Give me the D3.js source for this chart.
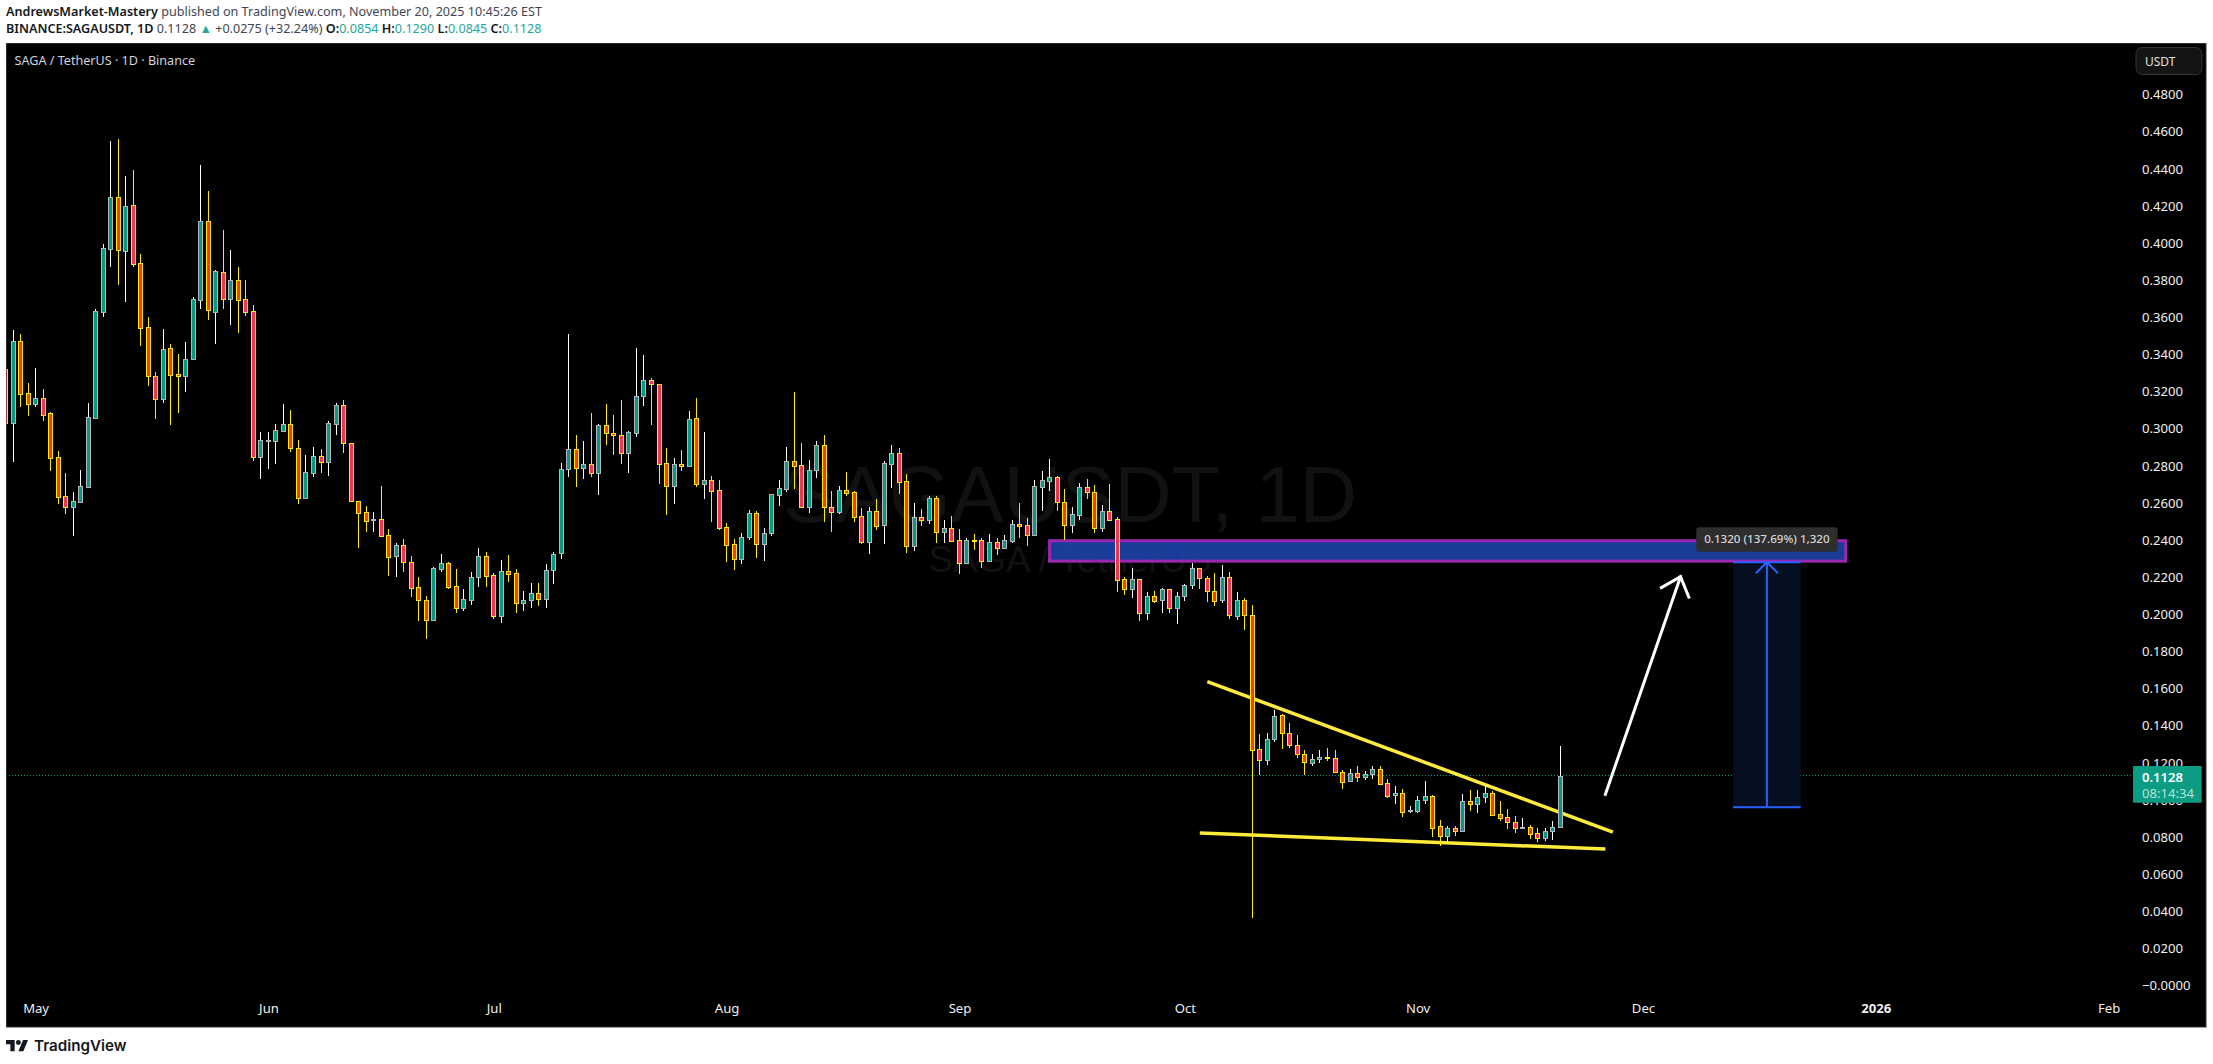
<!DOCTYPE html>
<html><head><meta charset="utf-8">
<script src="https://cdn.jsdelivr.net/npm/d3@7/dist/d3.min.js"></script>
<style>
html,body{margin:0;padding:0;background:#fff;overflow:hidden}
svg{display:block}
text{font-family:"Noto Sans",sans-serif}
</style></head><body>
<svg id="c" width="2213" height="1064"></svg>
<script>
const startDate = "2025-04-27";
const opens = [.3319,.3031,.3469,.3189,.3134,.3162,.3082,.2844,.2634,.2579,.2606,.2686,.3058,.3629,.3969,.4245,.3958,.4202,.3890,.3545,.3281,.3161,.3432,.3292,.3284,.3373,.3694,.4116,.3629,.3841,.3699,.3798,.3696,.3631,.2848,.2936,.2934,.2988,.3022,.2893,.2627,.2762,.2850,.2821,.3026,.3125,.2920,.2611,.2548,.2505,.2511,.2425,.2315,.2371,.2279,.2145,.2075,.1970,.2245,.2274,.2150,.2035,.2078,.2197,.2312,.2209,.1992,.2231,.2220,.2062,.2073,.2112,.2080,.2236,.2328,.2780,.2888,.2786,.2807,.2759,.3017,.2974,.2964,.2870,.2978,.3172,.3260,.3238,.2813,.2689,.2807,.2800,.3055,.2700,.2721,.2667,.2468,.2376,.2299,.2414,.2543,.2380,.2434,.2644,.2676,.2823,.2802,.2579,.2775,.2909,.2579,.2552,.2667,.2656,.2527,.2390,.2554,.2482,.2811,.2866,.2716,.2364,.2522,.2504,.2624,.2444,.2462,.2398,.2277,.2401,.2398,.2288,.2387,.2358,.2396,.2484,.2479,.2428,.2687,.2719,.2737,.2602,.2482,.2536,.2683,.2656,.2466,.2554,.2511,.2187,.2133,.2187,.2004,.2096,.2074,.2133,.2031,.2096,.2155,.2247,.2193,.2123,.2074,.2198,.1988,.2074,.1993,.1271,.1212,.1325,.1455,.1358,.1293,.1244,.1196,.1217,.1230,.1223,.1147,.1099,.1142,.1121,.1137,.1164,.1088,.1024,.1034,.0939,.0939,.0996,.1018,.0857,.0806,.0846,.0833,.0991,.0979,.1013,.1034,.0921,.0905,.0878,.0849,.0851,.0819,.0792,.0830,.0854];
const highs = [.3319,.3531,.3507,.3243,.3326,.3211,.3087,.2877,.2758,.2656,.2776,.3135,.3642,.3992,.4549,.4560,.4360,.4391,.3938,.3599,.3302,.3534,.3453,.3399,.3464,.3710,.4418,.4278,.3852,.4068,.3960,.3868,.3798,.3663,.2981,.2979,.3024,.3130,.3098,.2936,.2855,.2898,.2888,.3038,.3135,.3152,.2920,.2611,.2580,.2550,.2689,.2457,.2382,.2403,.2312,.2198,.2096,.2252,.2322,.2279,.2242,.2134,.2225,.2355,.2333,.2220,.2290,.2317,.2242,.2123,.2166,.2166,.2269,.2333,.2813,.3510,.2964,.2931,.3082,.3023,.3131,.3071,.3152,.2985,.3432,.3395,.3271,.3238,.2894,.2840,.2883,.3093,.3163,.2980,.2743,.2721,.2489,.2403,.2436,.2559,.2554,.2462,.2646,.2721,.2899,.3197,.2920,.2829,.2931,.2963,.2662,.2689,.2764,.2662,.2570,.2575,.2619,.2823,.2909,.2893,.2753,.2597,.2565,.2635,.2635,.2505,.2527,.2457,.2408,.2430,.2408,.2430,.2408,.2425,.2505,.2597,.2516,.2721,.2769,.2834,.2742,.2672,.2575,.2705,.2726,.2694,.2586,.2699,.2522,.2198,.2247,.2187,.2117,.2123,.2139,.2133,.2117,.2160,.2274,.2247,.2203,.2220,.2263,.2225,.2117,.2085,.2047,.1352,.1358,.1482,.1460,.1411,.1347,.1266,.1244,.1266,.1277,.1266,.1158,.1164,.1180,.1153,.1180,.1180,.1110,.1072,.1056,.0964,.1018,.1099,.1024,.0889,.0857,.0857,.1029,.1050,.1050,.1072,.1045,.0991,.0948,.0910,.0900,.0862,.0846,.0846,.0883,.1290];
const lows = [.3031,.2819,.3117,.3069,.3117,.3042,.2773,.2595,.2541,.2422,.2606,.2679,.3058,.3602,.3872,.3775,.3683,.3872,.3446,.3231,.3053,.3139,.3020,.3085,.3198,.3373,.3645,.3586,.3457,.3645,.3559,.3516,.3608,.2826,.2730,.2783,.2810,.2981,.2875,.2595,.2622,.2740,.2762,.2746,.2967,.2870,.2611,.2356,.2444,.2444,.2418,.2207,.2197,.2229,.2094,.1965,.1863,.1965,.2229,.2137,.2003,.2014,.2051,.2148,.2148,.1976,.1954,.2170,.2008,.2014,.2030,.2046,.2035,.2164,.2299,.2741,.2682,.2725,.2741,.2644,.2912,.2859,.2806,.2762,.2956,.3123,.3021,.2703,.2531,.2595,.2768,.2795,.2682,.2622,.2498,.2455,.2283,.2240,.2267,.2401,.2302,.2288,.2423,.2584,.2658,.2671,.2574,.2547,.2735,.2498,.2444,.2541,.2638,.2498,.2380,.2326,.2455,.2380,.2681,.2649,.2331,.2337,.2477,.2487,.2385,.2385,.2396,.2218,.2272,.2347,.2250,.2288,.2320,.2358,.2385,.2412,.2369,.2423,.2557,.2665,.2557,.2401,.2434,.2509,.2622,.2439,.2444,.2504,.2121,.2101,.2085,.1965,.1970,.2058,.2008,.2008,.1948,.2072,.2133,.2133,.2067,.2045,.2058,.1975,.1970,.1916,.0364,.1135,.1189,.1313,.1275,.1277,.1223,.1135,.1180,.1196,.1207,.1147,.1059,.1097,.1097,.1104,.1113,.1077,.1011,.0979,.0909,.0930,.0930,.0979,.0801,.0749,.0763,.0804,.0833,.0941,.0930,.0980,.0919,.0887,.0844,.0822,.0849,.0790,.0772,.0778,.0783,.0845];
const closes = [.3031,.3469,.3187,.3134,.3162,.3074,.2843,.2633,.2579,.2607,.2688,.3060,.3631,.3971,.4245,.3963,.4197,.3888,.3543,.3281,.3161,.3426,.3290,.3284,.3373,.3696,.4116,.3636,.3847,.3699,.3798,.3694,.3629,.2848,.2936,.2940,.2990,.3022,.2897,.2627,.2764,.2850,.2821,.3028,.3125,.2920,.2611,.2546,.2503,.2510,.2423,.2310,.2371,.2278,.2143,.2073,.1970,.2247,.2274,.2148,.2035,.2080,.2198,.2312,.2207,.1992,.2231,.2218,.2062,.2075,.2112,.2080,.2236,.2322,.2780,.2888,.2786,.2807,.2759,.3017,.2974,.2962,.2870,.2980,.3174,.3260,.3238,.2811,.2689,.2807,.2800,.3050,.2700,.2721,.2665,.2466,.2374,.2299,.2414,.2543,.2380,.2435,.2646,.2678,.2823,.2800,.2579,.2775,.2909,.2579,.2552,.2667,.2654,.2525,.2390,.2554,.2477,.2813,.2866,.2714,.2364,.2522,.2504,.2624,.2444,.2462,.2396,.2277,.2398,.2396,.2288,.2387,.2358,.2398,.2484,.2477,.2428,.2689,.2721,.2737,.2601,.2482,.2538,.2683,.2656,.2466,.2554,.2509,.2186,.2133,.2187,.2004,.2096,.2072,.2133,.2031,.2096,.2155,.2247,.2193,.2123,.2069,.2198,.1993,.2074,.1993,.1266,.1212,.1325,.1449,.1358,.1293,.1244,.1201,.1217,.1228,.1226,.1147,.1097,.1142,.1121,.1137,.1164,.1086,.1022,.1034,.0936,.0944,.0996,.1018,.0849,.0806,.0846,.0833,.0991,.0979,.1013,.1034,.0919,.0903,.0878,.0849,.0853,.0817,.0795,.0830,.0851,.1128];

const priceTicks = d3.range(0, 25).map(i => i * 0.02);
const priceMin = 0, priceMax = 0.48;
const monthTicks = [["2025-05-01","May"],["2025-06-01","Jun"],["2025-07-01","Jul"],["2025-08-01","Aug"],["2025-09-01","Sep"],["2025-10-01","Oct"],["2025-11-01","Nov"],["2025-12-01","Dec"],["2026-01-01","2026"],["2026-02-01","Feb"]];
const lastPrice = 0.1128, countdown = "08:14:34";
const upperTrend = [["2025-10-04",0.1636],["2025-11-27",0.0825]];
const lowerTrend = [["2025-10-03",0.0821],["2025-11-26",0.0734]];
const zoneRange = {from:"2025-09-13", to:"2025-12-28", top:0.2395, bottom:0.2285};
const projection = {from:"2025-12-13", to:"2025-12-22", start:0.0959, end:0.2279, label:"0.1320 (137.69%) 1,320"};
const upArrow = [["2025-11-26",0.1029],["2025-12-06",0.2201]];

const D = s => new Date(s + "T00:00:00Z");
const x = d3.scaleUtc().domain([D("2025-05-01"), D("2026-02-01")]).range([35.6, 35.6 + 276 * 7.511]);
const y = d3.scaleLinear().domain([priceMin, priceMax]).range([985.3, 94.3]);
const svg = d3.select("#c");
const defs = svg.append("defs");
defs.append("clipPath").attr("id","pane").append("rect").attr("x",6.5).attr("y",43.5).attr("width",2126).attr("height",983);

// pane
svg.append("rect").attr("x",6.5).attr("y",43.5).attr("width",2199.5).attr("height",983.5).attr("fill","#000").attr("stroke","#2a2e39").attr("stroke-width",1);

// header
const h1 = svg.append("text").attr("x",6).attr("y",16).attr("font-size",12.6).attr("fill","#434651");
h1.append("tspan").attr("font-weight",600).attr("fill","#131722").text("AndrewsMarket-Mastery");
h1.append("tspan").text(" published on TradingView.com, November 20, 2025 10:45:26 EST");
const h2 = svg.append("text").attr("x",6).attr("y",33).attr("font-size",12.6).attr("fill","#434651");
h2.append("tspan").attr("font-weight",600).attr("fill","#131722").text("BINANCE:SAGAUSDT, 1D");
h2.append("tspan").text("  0.1128 ");
h2.append("tspan").attr("fill","#26a69a").text("▲");
h2.append("tspan").text(" +0.0275 (+32.24%) ");
[["O:","0.0854"],["H:","0.1290"],["L:","0.0845"],["C:","0.1128"]].forEach(([k,v],i)=>{
  h2.append("tspan").attr("font-weight",600).attr("fill","#131722").text((i?" ":"")+k);
  h2.append("tspan").attr("fill","#26a69a").text(v);
});

// watermark
const chartG = svg.append("g").attr("clip-path","url(#pane)");
chartG.append("text").attr("x",1070).attr("y",522).attr("text-anchor","middle").attr("font-size",79.5)
  .attr("fill","#111").style("font-family","'Liberation Sans',sans-serif").text("SAGAUSDT, 1D");
chartG.append("text").attr("x",1070).attr("y",572).attr("text-anchor","middle").attr("font-size",36.7)
  .attr("fill","#111").style("font-family","'Liberation Sans',sans-serif").text("SAGA / TetherUS");

// last price dotted line
const lastY = Math.floor(y(lastPrice))+0.5;
chartG.append("line").attr("x1",6).attr("x2",2133).attr("y1",lastY).attr("y2",lastY)
  .attr("stroke","#089981").attr("stroke-width",1).attr("stroke-dasharray","1 2").attr("shape-rendering","crispEdges");

// zone
chartG.append("rect").attr("x",x(D(zoneRange.from))).attr("y",y(zoneRange.top))
  .attr("width",x(D(zoneRange.to))-x(D(zoneRange.from))).attr("height",y(zoneRange.bottom)-y(zoneRange.top))
  .attr("fill","rgba(30,70,180,0.85)").attr("stroke","#9c27b0").attr("stroke-width",3);

// projection
const px0 = x(D(projection.from)), px1 = x(D(projection.to)), pmid = (px0+px1)/2, ps = y(projection.start), pe = y(projection.end);
chartG.append("rect").attr("x",px0).attr("y",pe).attr("width",px1-px0).attr("height",ps-pe).attr("fill","#060e22");
chartG.append("path").attr("fill","none").attr("stroke","#2962ff").attr("stroke-width",2)
  .attr("d",`M${px0},${ps}H${px1}M${px0},${pe}H${px1}M${pmid},${ps}V${pe}M${pmid-11},${pe+11}L${pmid},${pe}L${pmid+11},${pe+11}`);

// trend lines
const tl = d3.line().x(d=>x(D(d[0]))).y(d=>y(d[1]));
[upperTrend,lowerTrend].forEach(t=>chartG.append("path").attr("d",tl(t)).attr("fill","none").attr("stroke","#ffeb3b").attr("stroke-width",3.5));

// arrow
const a0 = [x(D(upArrow[0][0])) , y(upArrow[0][1])], a1 = [x(D(upArrow[1][0])), y(upArrow[1][1])];
const ang = Math.atan2(a1[1]-a0[1], a1[0]-a0[0]);
const wing = s => [a1[0]-22*Math.cos(ang+s*0.72), a1[1]-22*Math.sin(ang+s*0.72)];
chartG.append("path").attr("fill","none").attr("stroke","#fff").attr("stroke-width",3).attr("stroke-linecap","square")
  .attr("d",`M${a0}L${a1}M${wing(1)}L${a1}L${wing(-1)}`);

// candles
const day = 864e5, t0 = D(startDate).getTime();
const candles = opens.map((o,i)=>({date:new Date(t0+i*day),o,h:highs[i],l:lows[i],c:closes[i]}));
const gC = chartG.append("g").selectAll("g").data(candles).join("g");
const px = d => Math.floor(x(d.date))+0.5;
gC.append("line").attr("x1",px).attr("x2",px).attr("y1",d=>y(d.h)).attr("y2",d=>y(d.l))
  .attr("stroke",d=>d.c>=d.o?"#ffffff":"#ffeb00").attr("stroke-width",1).attr("shape-rendering","crispEdges");
gC.append("rect").attr("x",d=>px(d)-2).attr("width",4)
  .attr("y",d=>Math.round(y(Math.max(d.o,d.c)))+0.5)
  .attr("height",d=>Math.max(1,Math.round(y(Math.min(d.o,d.c)))-Math.round(y(Math.max(d.o,d.c)))))
  .attr("fill",d=>d.c>=d.o?"#089981":"#f23645")
  .attr("stroke",d=>d.c>=d.o?"#b2b5be":"#ffeb00").attr("stroke-width",1).attr("shape-rendering","crispEdges");

// projection label
const lbl = svg.append("g");
lbl.append("rect").attr("x",pmid-70.7).attr("y",527.3).attr("width",141.4).attr("height",24.4).attr("rx",3).attr("fill","#2e2e2e");
lbl.append("text").attr("x",pmid).attr("y",543.4).attr("text-anchor","middle").attr("font-size",11.6).attr("font-weight",500).attr("fill","#d6d6d6").text(projection.label);

// title
svg.append("text").attr("x",14.5).attr("y",65).attr("font-size",12.6).attr("fill","#d1d4dc").text("SAGA / TetherUS · 1D · Binance");

// axes
const yAxis = d3.axisRight(y).tickValues(priceTicks).tickSize(0).tickPadding(0)
  .tickFormat(v => v < 1e-9 ? "−0.0000" : d3.format(".4f")(v));
const gy = svg.append("g").attr("transform","translate(2142,0)").call(yAxis);
gy.select(".domain").remove();
gy.selectAll("text").attr("font-size",13.1).attr("fill","#f0f0f0").attr("dy","0.34em").style("font-family",'"Noto Sans",sans-serif');

const xAxis = d3.axisBottom(x).tickValues(monthTicks.map(m=>D(m[0]))).tickSize(0).tickPadding(0)
  .tickFormat((v,i)=>monthTicks[i][1]);
const gx = svg.append("g").attr("transform","translate(0,1003.5)").call(xAxis);
gx.select(".domain").remove();
gx.selectAll("text").attr("font-size",13.1).attr("fill","#f0f0f0").attr("dy","0.71em")
  .attr("font-weight",(v,i)=>monthTicks[i][1]==="2026"?700:400).style("font-family",'"Noto Sans",sans-serif');

// USDT box
svg.append("rect").attr("x",2136).attr("y",47.5).attr("width",66).attr("height",27).attr("rx",6).attr("fill","#141414").attr("stroke","#333");
svg.append("text").attr("x",2145).attr("y",65.5).attr("font-size",12).attr("fill","#e0e0e0").text("USDT");

// price label
svg.append("rect").attr("x",2133).attr("y",766).attr("width",68.7).attr("height",36.7).attr("rx",1).attr("fill","#0b9c83");
svg.append("text").attr("x",2142).attr("y",782).attr("font-size",13.1).attr("font-weight",600).attr("fill","#fff").text(d3.format(".4f")(lastPrice));
svg.append("text").attr("x",2142).attr("y",798).attr("font-size",13.1).attr("fill","#b5e3d9").text(countdown);

// logo
const logo = svg.append("g").attr("transform","translate(6,1037.5) scale(0.62)").attr("fill","#131722");
logo.append("path").attr("d","M14 22H7V11H0V4h14v18zM28 22h-8l7.5-18h8L28 22z");
logo.append("circle").attr("cx",20).attr("cy",8).attr("r",4);
svg.append("text").attr("x",34).attr("y",1050.5).attr("font-size",15.2).attr("font-weight",600).attr("fill","#131722").style("font-family","Inter,sans-serif").text("TradingView");
</script>
</body></html>
